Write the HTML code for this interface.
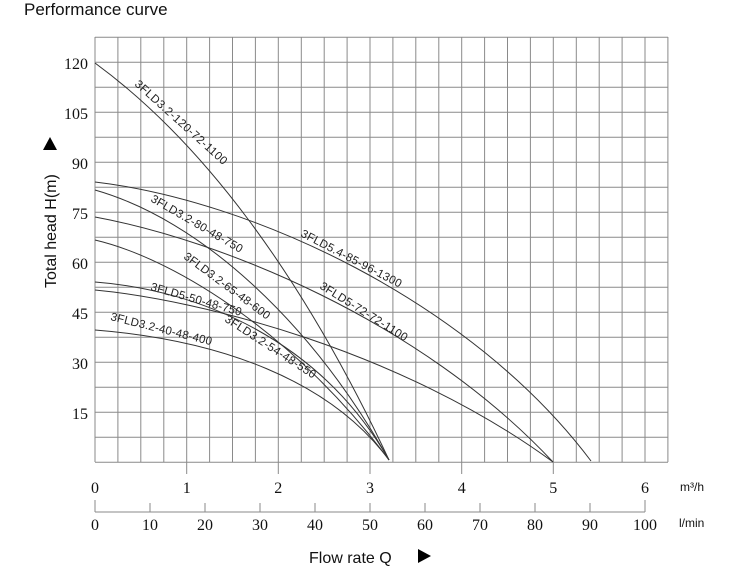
<!DOCTYPE html>
<html><head><meta charset="utf-8"><style>
html,body{margin:0;padding:0;background:#fff;}
svg{display:block;}
.ser{font-family:"Liberation Serif",serif;font-size:16px;fill:#111;}
.san{font-family:"Liberation Sans",sans-serif;fill:#111;}
.lab{font-family:"Liberation Sans",sans-serif;font-size:11.5px;fill:#222;}
</style></head><body>
<svg width="749" height="577" viewBox="0 0 749 577" xmlns="http://www.w3.org/2000/svg">
<text x="24" y="15" class="san" font-size="17">Performance curve</text>
<g stroke="#8a8a8a" stroke-width="1" fill="none">
<path d="M95,37V462M117.9,37V462M140.8,37V462M163.8,37V462M186.7,37V462M209.6,37V462M232.5,37V462M255.4,37V462M278.3,37V462M301.3,37V462M324.2,37V462M347.1,37V462M370,37V462M392.9,37V462M415.8,37V462M438.8,37V462M461.7,37V462M484.6,37V462M507.5,37V462M530.4,37V462M553.3,37V462M576.3,37V462M599.2,37V462M622.1,37V462M645,37V462M667.9,37V462"/>
<path d="M95,37.2H668M95,62.2H668M95,87.2H668M95,112.2H668M95,137.2H668M95,162.2H668M95,187.2H668M95,212.2H668M95,237.2H668M95,262.2H668M95,287.2H668M95,312.2H668M95,337.2H668M95,362.2H668M95,387.2H668M95,412.2H668M95,437.2H668M95,462.2H668"/>
<path d="M186.7,462V474M278.3,462V474M370,462V474M461.7,462V474M553.3,462V474"/>
<path d="M95,512H645M95,500V512M150,503V512M205,503V512M260,503V512M315,503V512M370,503V512M425,503V512M480,503V512M535,503V512M590,503V512M645,500V512"/>
</g>
<g class="ser" text-anchor="end">
<text x="88" y="69">120</text><text x="88" y="119">105</text><text x="88" y="169">90</text>
<text x="88" y="219">75</text><text x="88" y="269">60</text><text x="88" y="319">45</text>
<text x="88" y="369">30</text><text x="88" y="419">15</text>
</g>
<g class="ser" text-anchor="middle">
<text x="95" y="493">0</text><text x="186.7" y="493">1</text><text x="278.3" y="493">2</text><text x="370" y="493">3</text><text x="461.7" y="493">4</text><text x="553.3" y="493">5</text><text x="645" y="493">6</text>
<text x="95" y="530">0</text><text x="150" y="530">10</text><text x="205" y="530">20</text><text x="260" y="530">30</text><text x="315" y="530">40</text><text x="370" y="530">50</text><text x="425" y="530">60</text><text x="480" y="530">70</text><text x="535" y="530">80</text><text x="590" y="530">90</text><text x="645" y="530">100</text>
</g>
<text x="680" y="491" class="san" font-size="12">m³/h</text>
<text x="679" y="527" class="san" font-size="12">l/min</text>
<text x="309" y="563" class="san" font-size="16">Flow rate Q</text>
<path d="M418,549L431,556L418,563Z" fill="#000"/>
<text transform="translate(56,288) rotate(-90)" class="san" font-size="16">Total head H(m)</text>
<path d="M43,150L50,137L57,150Z" fill="#000"/>
<g stroke="#333" stroke-width="1" fill="none">
<path d="M95,63 C200,140 300,270 389,460"/>
<path d="M95,182 C250,200 470,300 591,461"/>
<path d="M95,190 C200,220 310,320 389,460"/>
<path d="M95,217 C220,240 420,320 553,462"/>
<path d="M95,240 C180,260 300,340 389,460"/>
<path d="M95,290 C200,300 400,350 553,462"/>
<path d="M95,282 C200,290 320,340 389,460"/>
<path d="M95,330 C220,340 330,380 389,460"/>
</g>
<g class="lab">
<text transform="translate(134,85) rotate(42)" textLength="120">3FLD3.2-120-72-1100</text>
<text transform="translate(150,201) rotate(30)" textLength="104">3FLD3.2-80-48-750</text>
<text transform="translate(300,236) rotate(27.5)" textLength="112">3FLD5.4-85-96-1300</text>
<text transform="translate(183,258) rotate(36.5)" textLength="104">3FLD3.2-65-48-600</text>
<text transform="translate(319,288) rotate(32)" textLength="101">3FLD5-72-72-1100</text>
<text transform="translate(150,290) rotate(16)" textLength="94">3FLD5-50-48-750</text>
<text transform="translate(224,321) rotate(33)" textLength="106">3FLD3.2-54-48-550</text>
<text transform="translate(110,320) rotate(14)" textLength="104">3FLD3.2-40-48-400</text>
</g>
</svg>
</body></html>
